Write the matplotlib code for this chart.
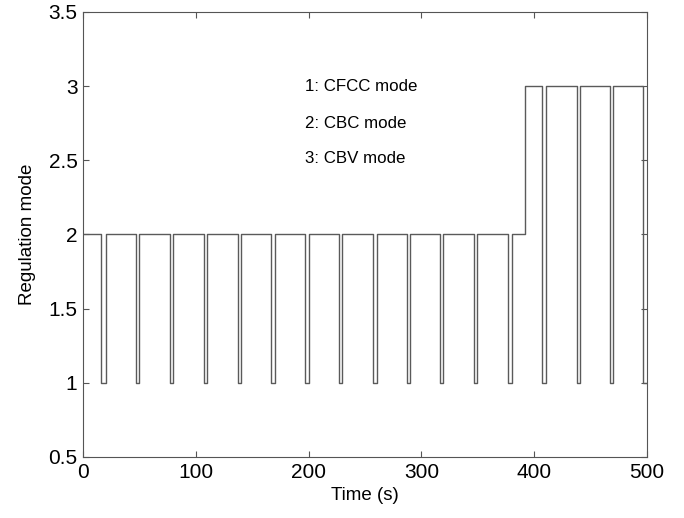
import matplotlib
matplotlib.use("Agg")
import matplotlib.pyplot as plt

plt.rcParams['font.family'] = ['Liberation Sans', 'DejaVu Sans']

# switching instants (s) and regulation mode held from each instant (step, post)
switch_times = [0, 16, 20, 47, 50, 77, 80, 107, 110, 137, 140.5, 167, 170,
                197, 200, 227, 230, 257, 260.5, 287, 290, 316.5, 319.5,
                346.5, 349.5, 377, 380, 392, 407, 410, 437.5, 440.5, 467,
                470, 496.5, 500]
modes = [2, 1, 2, 1, 2, 1, 2, 1, 2, 1, 2, 1, 2,
         1, 2, 1, 2, 1, 2, 1, 2, 1, 2,
         1, 2, 1, 2, 3, 1, 3, 1, 3, 1,
         3, 1, 1]

x_ticks = [0, 100, 200, 300, 400, 500]
y_ticks = [0.5, 1, 1.5, 2, 2.5, 3, 3.5]
y_tick_labels = ['0.5', '1', '1.5', '2', '2.5', '3', '3.5']
notes = ['1: CFCC mode', '2: CBC mode', '3: CBV mode']
note_y = [3.0, 2.75, 2.51]

fig = plt.figure(figsize=(6.84, 5.18), dpi=100)
ax = fig.add_axes([0.1213, 0.1178, 0.8247, 0.8591])

ax.step(switch_times, modes, where='post', color='#5a5a5a', linewidth=1.0)

ax.set_xlim(0, 500)
ax.set_ylim(0.5, 3.5)
ax.set_xticks(x_ticks)
ax.set_yticks(y_ticks)
ax.set_yticklabels(y_tick_labels)
ax.tick_params(direction='in', top=True, right=True, length=4, width=0.8,
               color='#555555', labelsize=15, pad=4)
for s in ax.spines.values():
    s.set_color('#555555')
    s.set_linewidth(0.8)

ax.set_xlabel('Time (s)', fontsize=13.5, labelpad=4)
ax.set_ylabel('Regulation mode', fontsize=13.5, labelpad=9)

for txt, yv in zip(notes, note_y):
    ax.text(197, yv, txt, fontsize=12.2, ha='left', va='center')

fig.savefig('out.png', dpi=100)
